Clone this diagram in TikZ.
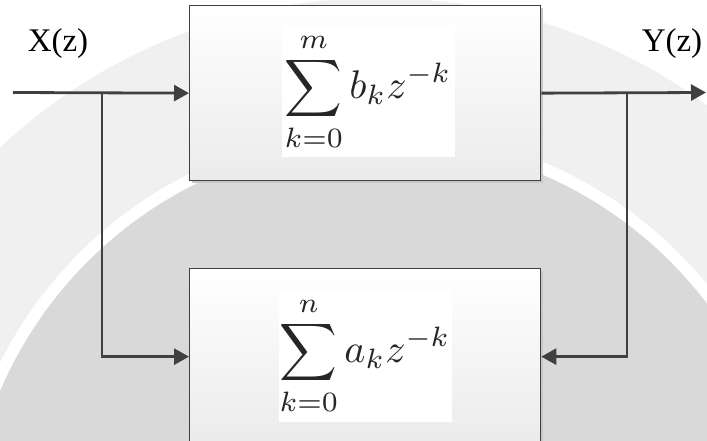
\documentclass[tikz,border=0pt]{standalone}
\usepackage{fontspec}
\setmainfont{Liberation Serif}
\usepackage{graphicx}
\usetikzlibrary{arrows.meta,shadows}
\definecolor{linegray}{HTML}{404040}
\definecolor{boxbot}{HTML}{EBEBEB}
\definecolor{innergray}{HTML}{D9D9D9}
\definecolor{bandgray}{HTML}{F0F0F0}
\begin{document}
\begin{tikzpicture}[x=1pt,y=-1pt,
  block/.style={draw=linegray, line width=1.3pt, top color=white, bottom color=boxbot,
    minimum width=351pt, anchor=north west, inner sep=0pt,
    drop shadow={shadow xshift=2pt, shadow yshift=-2pt, fill=black!22, opacity=1}},
  formula/.style={fill=white, text=black!85, minimum width=173pt, minimum height=131pt, inner sep=0pt},
  conn/.style={draw=linegray, line width=2.8pt, -{Triangle[length=15pt,width=16pt]}},
  lbl/.style={anchor=base, font=\fontsize{33}{36}\selectfont}]
\useasboundingbox (0,0) rectangle (707,441);
\clip (0,0) rectangle (707,441);
% background watermark disc
\fill[white] (0,0) rectangle (707,441);
\fill[bandgray] (379,553) circle[radius=555];
\fill[white] (379,553) circle[radius=424];
\fill[innergray] (379,553) circle[radius=412];
% blocks
\node[block, minimum height=175pt] (top) at (189,5) {};
\node[block, minimum height=176pt] (bot) at (189,268) {};
\node[formula] (fb) at (368,92) {\scalebox{4}{$\displaystyle\sum_{k=0}^{m} b_k z^{-k}$}};
\node[formula] (fa) at (365,356) {\scalebox{4}{$\displaystyle\sum_{k=0}^{n} a_k z^{-k}$}};
% labels
\node[lbl] (xl) at (58,52) {X(z)};
\node[lbl] (yl) at (672,52) {Y(z)};
% connectors
\coordinate (xin) at (13,92.5);
\coordinate (xs) at (102,92.5);
\coordinate (ys) at (627,92.5);
\coordinate (yout) at (706,92.5);
\draw[conn] (xin) -- (top.west);
\draw[conn] (xs) |- (bot.west);
\draw[conn] (top.east) -- (yout);
\draw[conn] (ys) |- (bot.east);
\end{tikzpicture}
\end{document}
